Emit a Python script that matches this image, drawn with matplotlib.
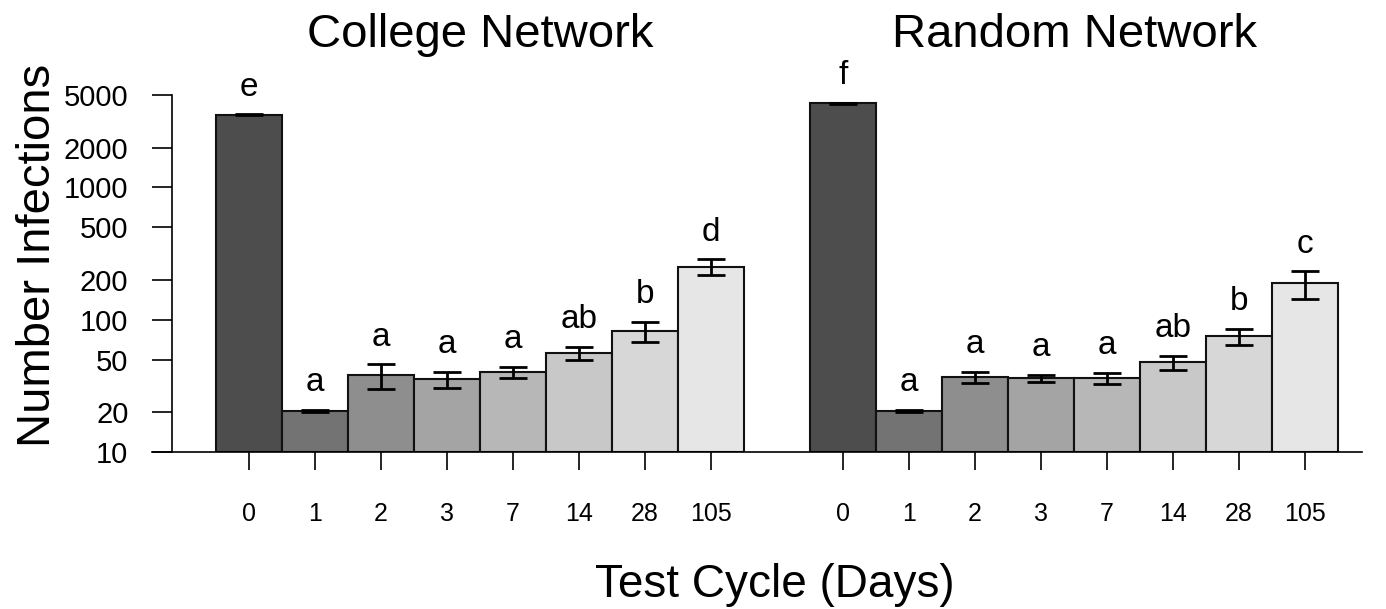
import numpy as np
import matplotlib.pyplot as plt
from matplotlib.ticker import NullLocator
from matplotlib.transforms import blended_transform_factory

plt.rcParams['font.family'] = ['Liberation Sans', 'DejaVu Sans']

# dados
cycles = ['0', '1', '2', '3', '7', '14', '28', '105']
college_mean = [3550, 20.4, 38, 35.6, 40, 55.7, 82, 251]
college_se = [25, 0.3, 8, 5, 3.8, 6.5, 14, 35]
college_letters = ['e', 'a', 'a', 'a', 'a', 'ab', 'b', 'd']
random_mean = [4320, 20.4, 36.8, 36, 36.2, 47.6, 75, 188]
random_se = [20, 0.3, 3.5, 2.4, 3.4, 6, 10.4, 44]
random_letters = ['f', 'a', 'a', 'a', 'a', 'ab', 'b', 'c']
y_ticks = [10, 20, 50, 100, 200, 500, 1000, 2000, 5000]

bar_colors = ['#4d4d4d', '#737373', '#8e8e8e', '#a4a4a4',
              '#b7b7b7', '#c8c8c8', '#d7d7d7', '#e6e6e6']

W, H = 1386, 609
fig = plt.figure(figsize=(W / 100, H / 100), dpi=100)

# eixo: esquerda no eixo y (px 172), base em y=10 (px 452), topo em 5000 (px 95)
ax = fig.add_axes([172 / W, (H - 452) / H, (1362 - 172) / W, (452 - 95) / H])
ymin, ymax = 10, 5000
px_per_bar = 66
x_left = (172 - 249) / px_per_bar
x_right = (1362 - 249) / px_per_bar

groups = [
    (np.arange(8), college_mean, college_se, college_letters, 'College Network'),
    (np.arange(8) + 9, random_mean, random_se, random_letters, 'Random Network'),
]

ax.set_yscale('log')
ax.set_xlim(x_left, x_right)
ax.set_ylim(ymin, ymax)

# x em dados, y em fracao da figura (para os titulos)
title_tr = blended_transform_factory(ax.transData, fig.transFigure)

for xs, mean, se, letters, title in groups:
    mean = np.array(mean)
    se = np.array(se)
    ax.bar(xs, mean - ymin, bottom=ymin, width=1, color=bar_colors,
           edgecolor='#111111', linewidth=1.5, zorder=2)
    ax.errorbar(xs, mean, yerr=se, fmt='none', ecolor='black',
                elinewidth=2, capsize=10, capthick=2, zorder=3)
    for xi, top, let in zip(xs, mean + se, letters):
        ax.annotate(let, (xi, top), xytext=(0, 13.5), textcoords='offset points',
                    ha='center', va='baseline', fontsize=24)
    # titulo centralizado sobre o grupo
    ax.text(xs.mean(), 1 - 47 / H, title, transform=title_tr,
            ha='center', va='baseline', fontsize=34, clip_on=False)

all_x = np.concatenate([g[0] for g in groups])
ax.set_xticks(all_x)
ax.set_xticklabels(cycles + cycles)
ax.set_yticks(y_ticks)
ax.set_yticklabels([str(t) for t in y_ticks])
ax.yaxis.set_minor_locator(NullLocator())

ax.tick_params(axis='y', length=14.4, width=1.2, pad=17, labelsize=21)
ax.tick_params(axis='x', length=13, width=1.2, pad=23, labelsize=18)

for s in ['top', 'right', 'bottom']:
    ax.spines[s].set_visible(False)
ax.spines['left'].set_bounds(ymin, ymax)
ax.spines['left'].set_linewidth(1.2)

# linha de base em y=10, comeca no fim dos ticks do eixo y
ax.plot([x_left - 20 / px_per_bar, x_right], [ymin, ymin], color='black',
        lw=1.2, clip_on=False, zorder=4)

fig.text(50 / W, 1 - 255 / H, 'Number Infections', rotation=90,
         rotation_mode='anchor', ha='center', va='baseline', fontsize=34)
fig.text(775 / W, 1 - 597 / H, 'Test Cycle (Days)', ha='center',
         va='baseline', fontsize=33)

fig.savefig('out.png', dpi=100)
